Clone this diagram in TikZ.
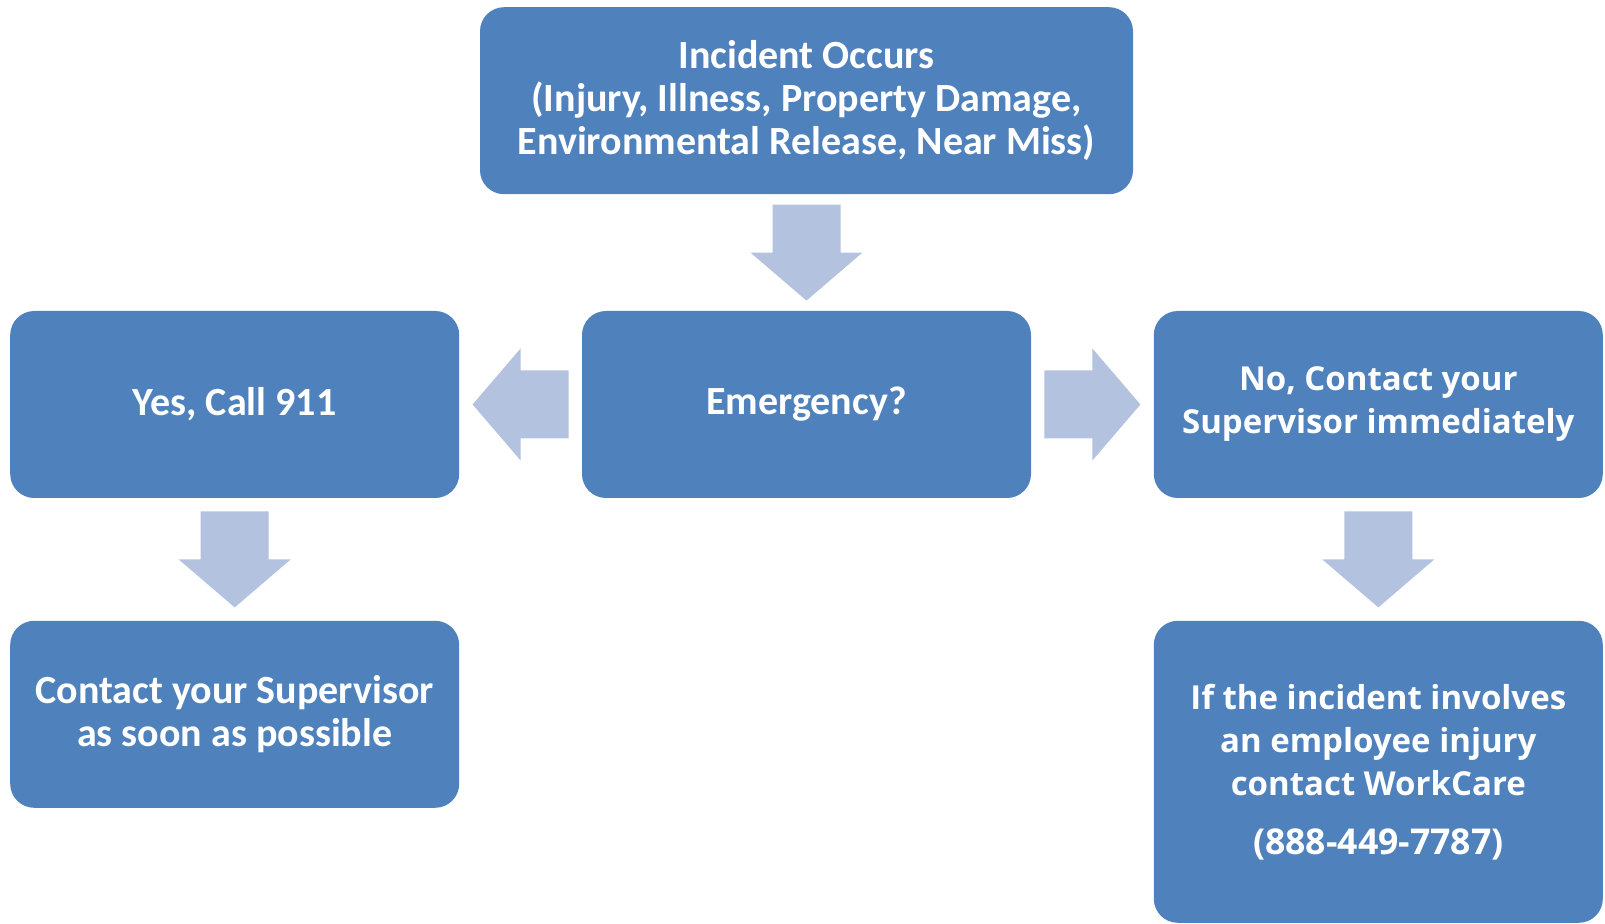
\documentclass[tikz,border=0pt]{standalone}
\usepackage{fontspec}
\setmainfont{Carlito}
\newfontfamily\opensans{Open Sans}
\usetikzlibrary{positioning,calc}
\definecolor{boxblue}{HTML}{4F81BD}
\definecolor{arrblue}{HTML}{B3C2DE}

\begin{document}
\begin{tikzpicture}[x=0.5pt, y=-0.5pt,
  node distance=61pt and 61pt,
  box/.style={fill=boxblue, rounded corners=12pt, align=center, text=white,
              font=\fontsize{20}{21.5}\selectfont\bfseries,
              minimum width=224.5pt, minimum height=93.5pt, inner sep=2pt},
  obox/.style={box, font=\opensans\fontsize{16.5}{21.5}\selectfont\bfseries},
  blockarr/.pic={\fill[arrblue] (-48,-34) -- (0,-34) -- (0,-56) -- (48,0)
                   -- (0,56) -- (0,34) -- (-48,34) -- cycle;}]
\useasboundingbox (0,0) rectangle (1605,924);
\node[box] (emg) at (806.5,404.5) {Emergency?};
\node[box, minimum width=326.5pt, minimum height=93.5pt, above=58pt of emg] (inc) {Incident Occurs\\(Injury, Illness, Property Damage,\\Environmental Release, Near Miss)};
\node[box, left=of emg] (yes) {Yes, Call 911};
\node[obox, right=of emg] (no) {No, Contact your\\Supervisor immediately};
\node[box, below=of yes] (sup) {Contact your Supervisor\\as soon as possible};
\node[obox, minimum height=151pt, below=of no] (wc) {If the incident involves\\an employee injury\\contact WorkCare\\[8pt]{\fontsize{17.8}{21.5}\selectfont(888-449-7787)}};
% block arrows between the boxes
\pic[rotate=-90] at ($(inc.south)!0.5!(emg.north)$) {blockarr};
\pic[rotate=180] at ($(emg.west)!0.5!(yes.east)$) {blockarr};
\pic at ($(emg.east)!0.5!(no.west)$) {blockarr};
\pic[rotate=-90] at ($(yes.south)!0.5!(sup.north)$) {blockarr};
\pic[rotate=-90] at ($(no.south)!0.5!(wc.north)$) {blockarr};
\end{tikzpicture}
\end{document}
